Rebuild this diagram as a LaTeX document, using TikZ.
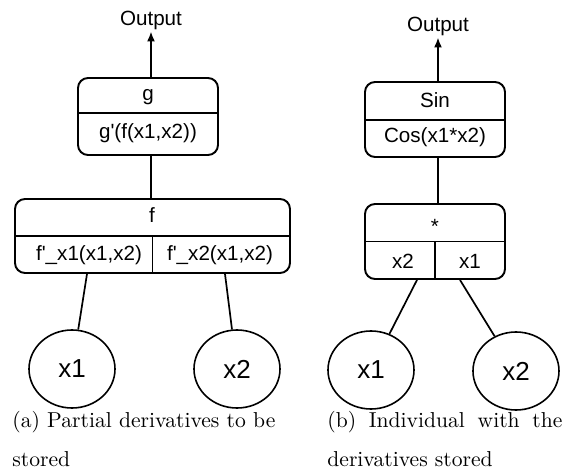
\documentclass[tikz,border=0pt]{standalone}
\usepackage{fontspec}
\usetikzlibrary{arrows.meta,shapes.geometric}
\newfontfamily\boxfont{Liberation Sans}

\tikzset{%
  funcbox/.style={draw,rounded corners=5pt,line width=0.95pt,inner sep=0pt},%
  leaf/.style={draw,ellipse,line width=0.8pt,inner sep=0pt,%
    minimum width=43pt,minimum height=39pt,%
    font=\boxfont\fontsize{13}{15}\selectfont},%
  lbl/.style={font=\boxfont\fontsize{10.3}{12}\selectfont,inner sep=1pt,%
    text height=7.5pt,text depth=2pt},%
  link/.style={line width=0.85pt},%
  outarrow/.style={line width=0.95pt,-{Latex[length=5pt,width=4pt]}},%
  capline/.style={anchor=base west,inner sep=0pt,%
    font=\fontsize{10.8}{13}\selectfont},%
}

\begin{document}
\begin{tikzpicture}[x=0.5pt,y=-0.5pt]%
  \useasboundingbox (0,0) rectangle (564,472);%

  % --- (a) tree with the partial derivatives ---
  \node[lbl,anchor=base] (outa) at (151,25) {Output};%
  \node[funcbox,minimum width=70pt,minimum height=38.5pt] (gbox) at (148,116.5) {};%
  \node[lbl] (gname) at (148,94.5) {g};%
  \node[lbl] (gderiv) at (148,132.5) {g'(f(x1,x2))};%
  \draw[link] ([yshift=-18pt]gbox.north west) -- ([yshift=-18pt]gbox.north east);%

  \node[funcbox,minimum width=137.5pt,minimum height=37pt] (fbox) at (152.5,236) {};%
  \node[lbl] (fname) at (152,216.5) {f};%
  \node[lbl] (fxa) at (89,254.5) {f'\_x1(x1,x2)};%
  \node[lbl] (fxb) at (220,254.5) {f'\_x2(x1,x2)};%
  \draw[link] (fbox.west) -- (fbox.east);%
  \draw[link] (fbox.center) -- (fbox.south);%

  \node[leaf] (xa) at (72,369) {x1};%
  \node[leaf] (xb) at (237,369) {x2};%

  \draw[outarrow] (outa |- gbox.north) -- (outa.south);%
  \draw[link] (outa |- gbox.south) -- (outa |- fbox.north);%
  \draw[link] ([xshift=-1pt]fxa |- fbox.south) -- (xa);%
  \draw[link] ([xshift=2.5pt]fxb |- fbox.south) -- (xb);%

  % --- (b) individual with its derivatives ---
  \node[lbl,anchor=base] (outb) at (438,31) {Output};%
  \node[funcbox,minimum width=70pt,minimum height=37.5pt] (sinbox) at (435,119.5) {};%
  \node[lbl] (sinname) at (435,101.5) {Sin};%
  \node[lbl] (sinderiv) at (435,136.5) {Cos(x1*x2)};%
  \draw[link] ([yshift=-19.5pt]sinbox.north west) -- ([yshift=-19.5pt]sinbox.north east);%

  \node[funcbox,minimum width=70pt,minimum height=37.5pt] (mulbox) at (435,241.5) {};%
  \node[lbl] (mulname) at (435,228) {*};%
  \node[lbl] (mulxb) at (403,262.5) {x2};%
  \node[lbl] (mulxa) at (470,262.5) {x1};%
  \draw[link] (mulbox.west) -- (mulbox.east);%
  \draw[link] (mulbox.center) -- (mulbox.south);%

  \node[leaf] (xc) at (371,370) {x1};%
  \node[leaf] (xd) at (516,371) {x2};%

  \draw[outarrow] (outb |- sinbox.north) -- (outb.south);%
  \draw[link] (outb |- sinbox.south) -- (outb |- mulbox.north);%
  \draw[link] ([xshift=7pt]mulxb |- mulbox.south) -- (xc);%
  \draw[link] ([xshift=-5pt]mulxa |- mulbox.south) -- (xd);%

  % captions
  \node[capline] (capa) at (12,427) {\makebox[131.5pt][s]{(a) Partial derivatives to be}};%
  \node[capline] (capaa) at (12,466) {stored};%
  \node[capline] (capb) at (327,427) {\makebox[117.5pt][s]{(b) Individual with the}};%
  \node[capline] (capbb) at (327,466) {derivatives stored};%
\end{tikzpicture}
\end{document}
